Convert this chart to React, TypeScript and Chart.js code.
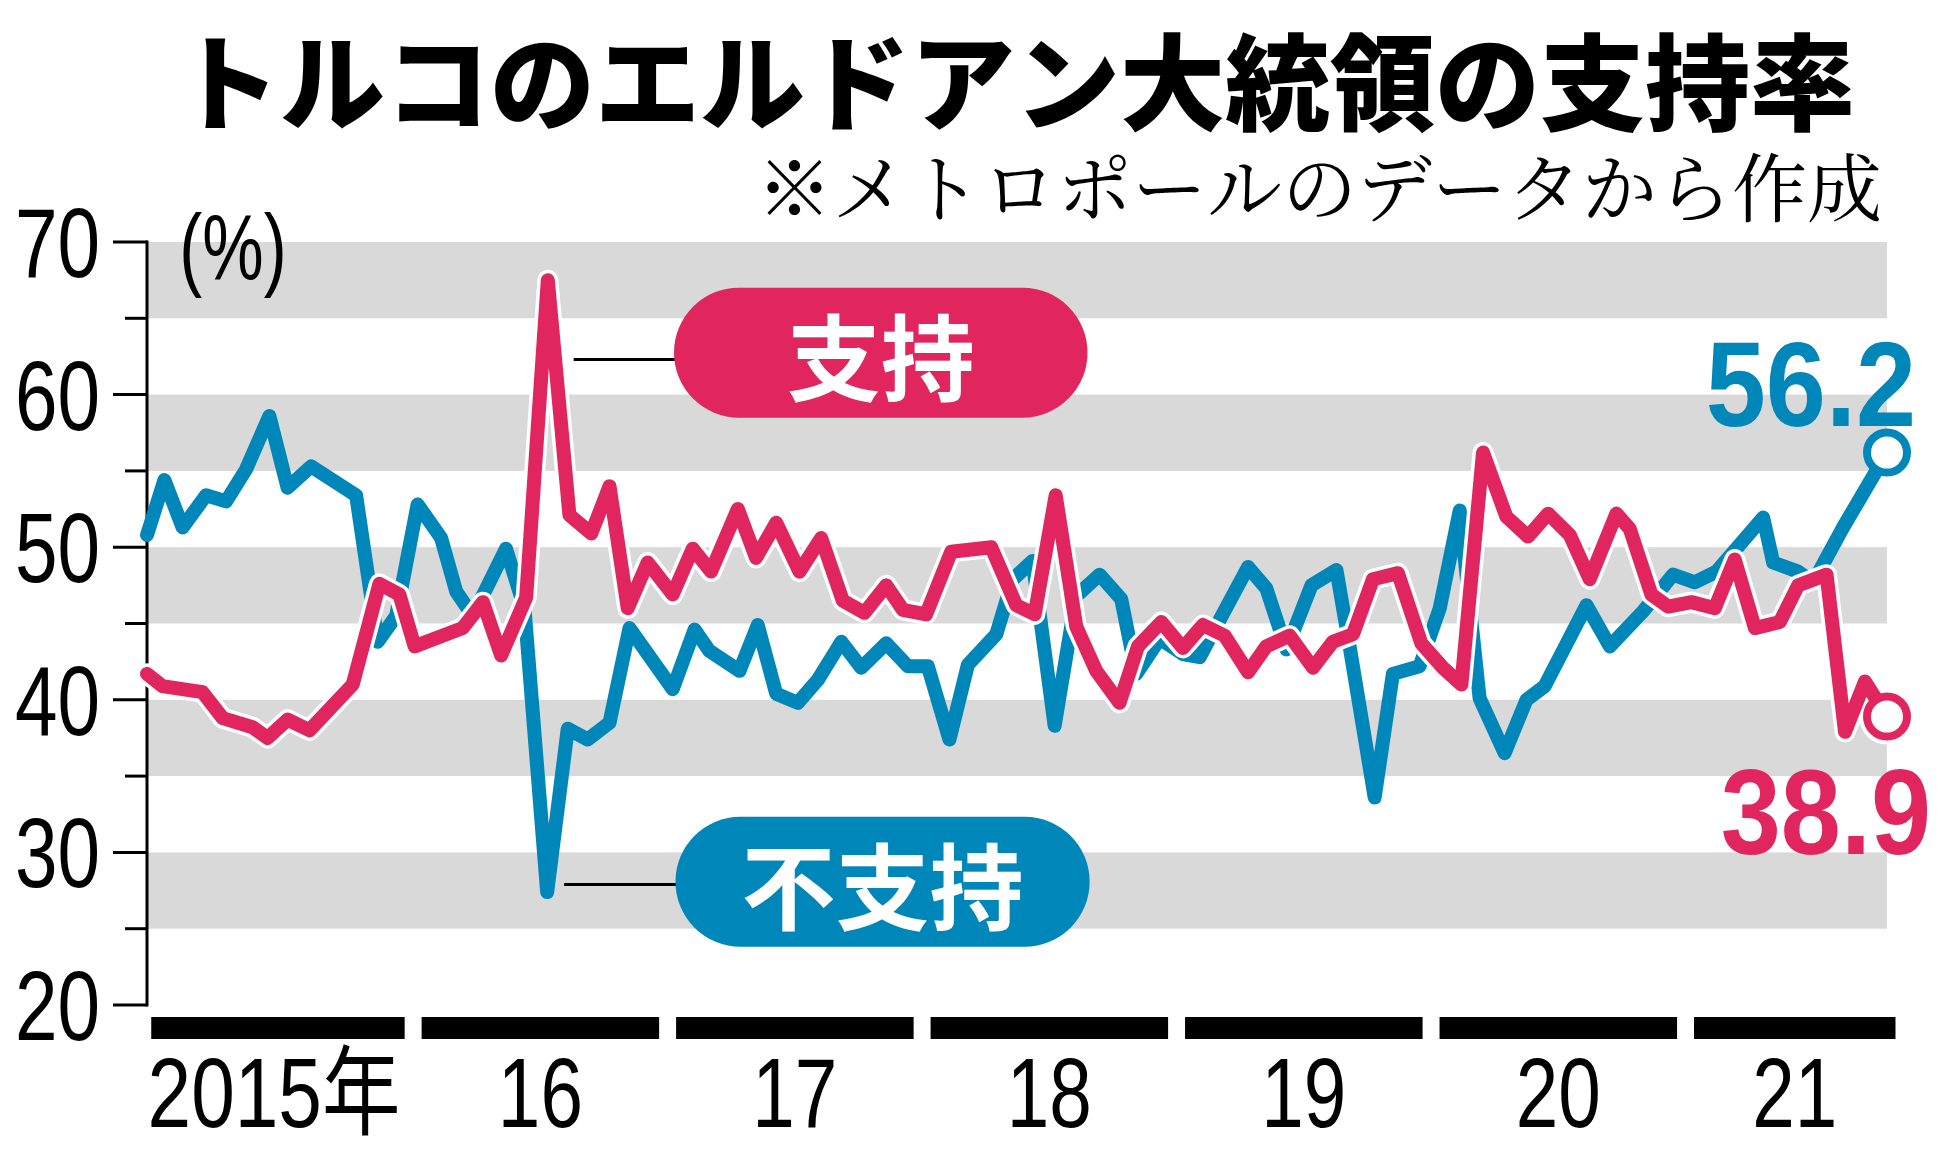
import React, { useEffect, useRef } from "react";
import { Chart, registerables } from "chart.js";

Chart.register(...registerables);

// ---- Data (x = months since Jan 2015, y = %) ----
const supportX = [-0.75, -0.03, 1.87, 2.82, 4.23, 4.94, 5.88, 6.91, 8.95, 10.21, 11.15, 11.87, 14.14, 15.09, 15.95, 17.13, 18.15, 19.17, 20.2, 21.06, 21.92, 22.86, 24.04, 24.98, 25.85, 27.11, 27.97, 28.92, 30.02, 31.04, 32.06, 33.08, 34.11, 34.89, 35.99, 37.17, 39.06, 40.24, 41.11, 42.1, 43.07, 44.01, 45.11, 45.98, 47.08, 48.1, 49.04, 50.07, 51.17, 52.03, 53.13, 54.23, 55.17, 56.12, 57.06, 58.24, 59.34, 60.36, 61.23, 62.25, 63.35, 64.37, 65.32, 66.34, 67.28, 68.54, 69.17, 70.19, 70.98, 72.08, 73.18, 74.12, 75.07, 76.25, 77.11, 78.45, 79.32, 80.26, 81.3];
const supportY = [41.7, 40.9, 40.5, 38.8, 38.2, 37.5, 38.7, 38.0, 41.0, 47.6, 46.9, 43.5, 44.7, 46.4, 42.9, 46.7, 67.5, 52.1, 50.9, 54.0, 46.0, 49.0, 46.9, 49.9, 48.4, 52.5, 49.3, 51.6, 48.4, 50.6, 46.5, 45.7, 47.5, 45.9, 45.6, 49.7, 50.0, 46.2, 45.6, 53.4, 44.8, 41.9, 39.8, 43.5, 45.1, 43.4, 44.9, 44.2, 41.8, 43.5, 44.2, 42.1, 43.8, 44.3, 47.9, 48.3, 43.7, 42.1, 41.0, 56.2, 52.0, 50.7, 52.2, 50.8, 47.9, 52.2, 51.2, 46.9, 46.1, 46.4, 46.0, 49.2, 44.7, 45.1, 47.5, 48.2, 37.9, 41.2, 38.9];

const opposeX = [-0.75, 0.07, 0.93, 2.03, 2.98, 3.92, 5.02, 5.88, 6.99, 9.11, 10.13, 11.0, 12.01, 13.12, 13.83, 14.61, 16.18, 17.05, 18.12, 19.09, 20.03, 21.06, 22.0, 24.04, 25.07, 25.77, 27.19, 28.05, 28.92, 29.94, 30.88, 31.99, 32.93, 34.11, 35.13, 36.07, 37.09, 37.96, 39.3, 40.08, 41.01, 42.05, 43.07, 44.17, 45.19, 45.9, 47.0, 48.09, 48.89, 51.17, 52.03, 52.98, 54.16, 55.34, 55.96, 57.14, 58.0, 59.26, 60.21, 61.15, 62.09, 63.27, 64.3, 65.16, 67.13, 68.23, 69.8, 71.21, 72.24, 73.26, 75.46, 75.93, 77.11, 77.82, 79.23, 81.3];
const opposeY = [50.8, 54.4, 51.3, 53.4, 53.0, 55.1, 58.6, 53.9, 55.3, 53.4, 43.8, 45.5, 52.8, 50.6, 47.1, 45.5, 49.9, 46.0, 27.4, 38.1, 37.4, 38.5, 44.7, 40.7, 44.6, 43.2, 41.9, 44.9, 40.4, 39.8, 41.3, 43.8, 42.1, 43.7, 42.2, 42.2, 37.4, 42.3, 44.3, 47.9, 49.1, 38.3, 46.8, 48.2, 46.6, 41.7, 44.0, 43.0, 42.8, 48.7, 47.3, 43.3, 47.5, 48.5, 43.5, 33.6, 41.7, 42.2, 46.0, 52.4, 40.1, 36.5, 40.0, 40.9, 46.2, 43.5, 45.8, 48.2, 47.7, 48.4, 51.95, 49.0, 48.4, 47.7, 51.3, 56.2];

const yearLabels = ["2015年", "16", "17", "18", "19", "20", "21"];
const yTicks = [20, 30, 40, 50, 60, 70];
const seriesNames = ["支持", "不支持"];

const TITLE = "トルコのエルドアン大統領の支持率";
const SUBTITLE = "※メトロポールのデータから作成";
const UNIT = "(%)";

// ---- Style ----
const PINK = "#E1255F";
const BLUE = "#0087BA";
const BAND = "#D9D9D9";
const X_MIN = -0.75;
const X_MAX = 81.3;
const Y_MIN = 20;
const Y_MAX = 70;
const LINE_W = 14;
const NUM_FONT = '"Liberation Sans", Arial, "Noto Sans CJK JP", sans-serif';
const JP_FONT = '"Noto Sans CJK JP", "Noto Sans CJK SC", sans-serif';

function txt(ctx, s, x, y, font, color, align, sx = 1) {
  ctx.save();
  ctx.font = font;
  ctx.fillStyle = color;
  ctx.textBaseline = "alphabetic";
  ctx.textAlign = align;
  ctx.translate(x, y);
  ctx.scale(sx, 1);
  ctx.fillText(s, 0, 0);
  ctx.restore();
}

function pill(ctx, x1, x2, cy, h, color) {
  const r = h / 2;
  ctx.beginPath();
  ctx.moveTo(x1 + r, cy - r);
  ctx.lineTo(x2 - r, cy - r);
  ctx.arc(x2 - r, cy, r, -Math.PI / 2, Math.PI / 2);
  ctx.lineTo(x1 + r, cy + r);
  ctx.arc(x1 + r, cy, r, Math.PI / 2, Math.PI * 1.5);
  ctx.closePath();
  ctx.fillStyle = color;
  ctx.fill();
}

const decorPlugin = {
  id: "decor",
  beforeDatasetsDraw(chart) {
    const { ctx, chartArea, scales } = chart;
    const { left, right, bottom } = chartArea;
    const y = scales.y;
    const x = scales.x;
    ctx.save();
    // gray bands
    ctx.fillStyle = BAND;
    for (let v = Y_MAX; v - 5 >= Y_MIN + 5; v -= 10) {
      const y1 = y.getPixelForValue(v);
      const y2 = y.getPixelForValue(v - 5);
      ctx.fillRect(left, y1, right - left, y2 - y1);
    }
    // y axis
    ctx.strokeStyle = "#000";
    ctx.lineWidth = 3;
    ctx.beginPath();
    ctx.moveTo(left, y.getPixelForValue(Y_MAX) - 1.5);
    ctx.lineTo(left, y.getPixelForValue(Y_MIN) + 1.5);
    ctx.stroke();
    for (let v = Y_MIN; v <= Y_MAX; v += 5) {
      const py = y.getPixelForValue(v);
      const major = v % 10 === 0;
      ctx.beginPath();
      ctx.moveTo(left - (major ? 34 : 22), py);
      ctx.lineTo(left, py);
      ctx.stroke();
    }
    ctx.restore();
    // y tick labels
    yTicks.forEach((v) => {
      const py = y.getPixelForValue(v);
      txt(ctx, String(v), left - 47, py + 35, `98px ${NUM_FONT}`, "#000", "right", 0.78);
    });
    // unit
    txt(ctx, UNIT, left + 86, y.getPixelForValue(Y_MAX) + 37, `92px ${NUM_FONT}`, "#000", "center", 0.75);
    // year bars + labels
    const lastX = Math.max(supportX[supportX.length - 1], opposeX[opposeX.length - 1]);
    ctx.save();
    ctx.fillStyle = "#000";
    yearLabels.forEach((lab, i) => {
      const s = i === 0 ? X_MIN + 0.2 : i * 12 + 0.2;
      const e = i === yearLabels.length - 1 ? lastX + 0.4 : i * 12 + 11.4;
      const px1 = x.getPixelForValue(s);
      const px2 = x.getPixelForValue(e);
      ctx.fillRect(px1, bottom + 12, px2 - px1, 22);
      txt(ctx, lab, (px1 + px2) / 2 - (i === 0 ? 4 : 0), bottom + 122, `98px ${NUM_FONT}`, "#000", "center", i === 0 ? 0.8 : 0.78);
    });
    ctx.restore();
  },
  beforeDatasetDraw(chart, args) {
    if (args.index !== 0) return;
    const { ctx } = chart;
    const pts = args.meta.data;
    ctx.save();
    ctx.strokeStyle = "#fff";
    ctx.lineWidth = LINE_W + 7;
    ctx.lineJoin = "round";
    ctx.lineCap = "round";
    ctx.beginPath();
    pts.forEach((p, i) => (i ? ctx.lineTo(p.x, p.y) : ctx.moveTo(p.x, p.y)));
    ctx.stroke();
    const lp = pts[pts.length - 1];
    ctx.beginPath();
    ctx.arc(lp.x, lp.y, 28, 0, Math.PI * 2);
    ctx.fillStyle = "#fff";
    ctx.fill();
    ctx.restore();
  },
  afterDatasetsDraw(chart) {
    const { ctx, scales } = chart;
    const x = scales.x;
    const y = scales.y;
    // series label pills with leaders
    const pills = [
      { name: seriesNames[0], color: PINK, x1: 24.1, x2: 43.6, cy: 62.75, lx1: 19.37, ly: 62.3 },
      { name: seriesNames[1], color: BLUE, x1: 24.17, x2: 43.7, cy: 28.08, lx1: 18.92, ly: 27.9 },
    ];
    pills.forEach((p) => {
      const px1 = x.getPixelForValue(p.x1);
      const px2 = x.getPixelForValue(p.x2);
      const pcy = y.getPixelForValue(p.cy);
      ctx.save();
      ctx.strokeStyle = "#000";
      ctx.lineWidth = 3;
      ctx.beginPath();
      ctx.moveTo(x.getPixelForValue(p.lx1), y.getPixelForValue(p.ly));
      ctx.lineTo(px1 + 4, y.getPixelForValue(p.ly));
      ctx.stroke();
      pill(ctx, px1, px2, pcy, 130, p.color);
      ctx.restore();
      txt(ctx, p.name, (px1 + px2) / 2, pcy + 5 + 36, `bold 94px ${JP_FONT}`, "#fff", "center");
    });
    // end value labels
    const sp = chart.getDatasetMeta(0).data;
    const op = chart.getDatasetMeta(1).data;
    const sLast = sp[sp.length - 1];
    const oLast = op[op.length - 1];
    txt(ctx, opposeY[opposeY.length - 1].toFixed(1), oLast.x + 29, oLast.y - 27, `bold 120px ${NUM_FONT}`, BLUE, "right", 0.9);
    txt(ctx, supportY[supportY.length - 1].toFixed(1), sLast.x + 44, sLast.y + 137, `bold 120px ${NUM_FONT}`, PINK, "right", 0.9);
    // title & subtitle
    txt(ctx, TITLE, 175, 122, `900 105px ${JP_FONT}`, "#000", "left");
    txt(ctx, SUBTITLE, 1882, 216, `75px "Noto Serif CJK JP", ${JP_FONT}`, "#000", "right");
  },
};

export default function App() {
  const ref = useRef<HTMLCanvasElement | null>(null);
  useEffect(() => {
    if (!ref.current) return;
    const lastIdx = (arr) => (c) => (c.dataIndex === arr.length - 1 ? 20 : 0);
    const common = {
      borderWidth: LINE_W,
      borderJoinStyle: "round",
      borderCapStyle: "round",
      tension: 0,
      pointBackgroundColor: "#fff",
      pointBorderWidth: 8,
      clip: false,
    };
    const chart = new Chart(ref.current, {
      type: "line",
      data: {
        datasets: [
          {
            ...common,
            label: seriesNames[0],
            data: supportX.map((v, i) => ({ x: v, y: supportY[i] })),
            borderColor: PINK,
            pointRadius: lastIdx(supportX),
            pointHoverRadius: lastIdx(supportX),
            pointBorderColor: PINK,
          },
          {
            ...common,
            label: seriesNames[1],
            data: opposeX.map((v, i) => ({ x: v, y: opposeY[i] })),
            borderColor: BLUE,
            pointRadius: lastIdx(opposeX),
            pointHoverRadius: lastIdx(opposeX),
            pointBorderColor: BLUE,
          },
        ],
      },
      options: {
        animation: false,
        responsive: false,
        devicePixelRatio: 1,
        layout: { padding: { left: 147, right: 51, top: 242, bottom: 153 } },
        scales: {
          x: { type: "linear", min: X_MIN, max: X_MAX, display: false },
          y: { type: "linear", min: Y_MIN, max: Y_MAX, display: false },
        },
        plugins: { legend: { display: false }, tooltip: { enabled: false } },
        events: [],
      },
      plugins: [decorPlugin],
    });
    return () => chart.destroy();
  }, []);
  return (
    <div style={{ position: "absolute", left: 0, top: 0, width: 1938, height: 1158, background: "#fff" }}>
      <canvas ref={ref} width={1938} height={1158} />
    </div>
  );
}
